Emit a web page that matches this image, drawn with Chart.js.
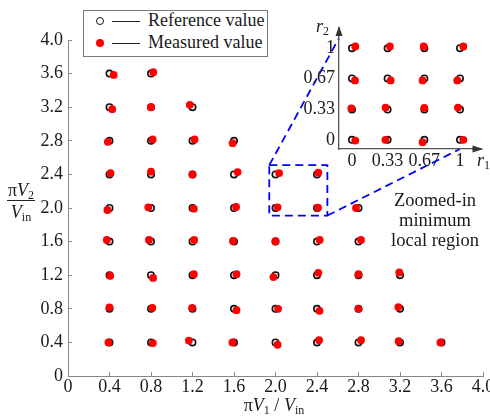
<!DOCTYPE html>
<html>
<head>
<meta charset="utf-8">
<script src="https://cdn.jsdelivr.net/npm/chart.js@4"></script>
<style>
  body { margin: 0; background: #fff; }
  #wrap { position: relative; width: 490px; height: 418px; overflow: hidden; font-family: 'Liberation Serif', serif; color: #1a1a1a; }
  #wrap canvas { position: absolute; }
  .txt { position: absolute; white-space: nowrap; }
  sub { font-size: 12px; vertical-align: -3px; line-height: 0; }
  i { font-style: italic; }
  .legend { position: absolute; left: 83px; top: 10px; width: 185px; height: 47px; border: 1px solid #777; background: #fff; box-sizing: border-box; font-size: 18px; }
  .legend .mk { position: absolute; left: 12px; width: 8px; height: 8px; border-radius: 50%; box-sizing: border-box; }
  .legend .ln { position: absolute; left: 28px; width: 28px; height: 0; border-top: 1.5px solid #222; }
  .legend .lb { position: absolute; left: 64px; }
</style>
</head>
<body>
<div id="wrap">
  <canvas id="mainChart" width="490" height="418" style="left:0;top:0"></canvas>
  <canvas id="insetChart" width="200" height="170" style="left:290px;top:10px"></canvas>

  <div class="legend">
    <div class="mk" style="top:6px;border:1.6px solid #111"></div>
    <div class="ln" style="top:10px"></div>
    <div class="lb" style="top:-1px">Reference value</div>
    <div class="mk" style="top:28px;background:#f00"></div>
    <div class="ln" style="top:32px"></div>
    <div class="lb" style="top:21px">Measured value</div>
  </div>

  <div class="txt" style="left:2px;top:181px;width:38px;text-align:center;font-size:18px;line-height:18px">
    <span style="display:inline-block;border-bottom:1px solid #222;padding:0 1px 1px">π<i>V</i><sub>2</sub></span><br>
    <span style="display:inline-block;padding-top:2px"><i>V</i><sub>in</sub></span>
  </div>
  <div class="txt" style="left:200px;top:395px;width:148px;text-align:center;font-size:18px">π<i>V</i><sub>1</sub> / <i>V</i><sub>in</sub></div>

  <div class="txt" style="left:316px;top:16px;font-size:18px"><i>r</i><sub>2</sub></div>
  <div class="txt" style="left:477px;top:150px;font-size:18px"><i>r</i><sub>1</sub></div>

  <div class="txt" style="left:378px;top:190px;width:114px;text-align:center;font-size:18.5px;line-height:20px">Zoomed-in<br>minimum<br>local region</div>
</div>

<script>
// main plot: reference grid points, row by row from the top
const refX = [
  0.4, 0.8,
  0.4, 0.8, 1.2,
  0.4, 0.8, 1.2, 1.6,
  0.4, 0.8, 1.2, 1.6, 2.0, 2.4,
  0.4, 0.8, 1.2, 1.6, 2.0, 2.4, 2.8,
  0.4, 0.8, 1.2, 1.6, 2.0, 2.4, 2.8,
  0.4, 0.8, 1.2, 1.6, 2.0, 2.4, 2.8, 3.2,
  0.4, 0.8, 1.2, 1.6, 2.0, 2.4, 2.8, 3.2,
  0.4, 0.8, 1.2, 1.6, 2.0, 2.4, 2.8, 3.2, 3.6
];
const refY = [
  3.6, 3.6,
  3.2, 3.2, 3.2,
  2.8, 2.8, 2.8, 2.8,
  2.4, 2.4, 2.4, 2.4, 2.4, 2.4,
  2.0, 2.0, 2.0, 2.0, 2.0, 2.0, 2.0,
  1.6, 1.6, 1.6, 1.6, 1.6, 1.6, 1.6,
  1.2, 1.2, 1.2, 1.2, 1.2, 1.2, 1.2, 1.2,
  0.8, 0.8, 0.8, 0.8, 0.8, 0.8, 0.8, 0.8,
  0.4, 0.4, 0.4, 0.4, 0.4, 0.4, 0.4, 0.4, 0.4
];
// measured points, same order
const measX = [
  0.44, 0.822,
  0.426, 0.80, 1.174,
  0.384, 0.816, 1.22, 1.587,
  0.41, 0.80, 1.20, 1.635, 2.035, 2.413,
  0.38, 0.774, 1.213, 1.62, 2.02, 2.41, 2.776,
  0.374, 0.78, 1.216, 1.59, 2.0, 2.426, 2.824,
  0.407, 0.82, 1.213, 1.624, 1.98, 2.413, 2.80, 3.193,
  0.40, 0.813, 1.197, 1.624, 2.025, 2.424, 2.80, 3.184,
  0.39, 0.818, 1.165, 1.585, 2.02, 2.42, 2.824, 3.187, 3.59
];
const measY = [
  3.584, 3.616,
  3.176, 3.20, 3.228,
  2.788, 2.816, 2.816, 2.772,
  2.416, 2.432, 2.40, 2.428, 2.416, 2.42,
  1.976, 2.008, 1.992, 2.012, 2.008, 2.004, 2.0,
  1.62, 1.62, 1.62, 1.608, 1.604, 1.62, 1.62,
  1.192, 1.168, 1.212, 1.212, 1.178, 1.228, 1.212, 1.232,
  0.816, 0.812, 0.812, 0.784, 0.80, 0.776, 0.80, 0.82,
  0.40, 0.392, 0.422, 0.40, 0.372, 0.426, 0.426, 0.414, 0.40
];
const axisTicks = [0, 0.4, 0.8, 1.2, 1.6, 2.0, 2.4, 2.8, 3.2, 3.6, 4.0];
const axisTickLabels = ['0', '0.4', '0.8', '1.2', '1.6', '2.0', '2.4', '2.8', '3.2', '3.6', '4.0'];

// inset (r1, r2)
const inRefR1 = [0, 0.33, 0.67, 1, 0, 0.33, 0.67, 1, 0, 0.33, 0.67, 1, 0, 0.33, 0.67, 1];
const inRefR2 = [1, 1, 1, 1, 0.67, 0.67, 0.67, 0.67, 0.33, 0.33, 0.33, 0.33, 0, 0, 0, 0];
const inMeasR1 = [0.031, 0.351, 0.664, 1.031, 0.028, 0.358, 0.654, 0.975, -0.006, 0.311, 0.67, 0.981, 0.031, 0.309, 0.654, 1.031];
const inMeasR2 = [1.018, 1.018, 1.018, 1.018, 0.648, 0.648, 0.648, 0.648, 0.344, 0.352, 0.348, 0.352, -0.008, 0, -0.025, 0];
const inTicks = [0, 0.33, 0.67, 1];
const inTickLabels = ['0', '0.33', '0.67', '1'];

// dashed box around the zoomed region (data units of main plot)
const zoomBox = { x0: 1.94, x1: 2.50, y0: 1.91, y1: 2.51 };

Chart.defaults.font.family = "'Liberation Serif', serif";
Chart.defaults.font.size = 18;
Chart.defaults.color = '#1a1a1a';

const pts = (xs, ys) => xs.map((x, i) => ({ x: x, y: ys[i] }));
const setTicks = vals => s => { s.ticks = vals.map(v => ({ value: v })); };

const insetArrows = {
  id: 'insetArrows',
  afterDraw(chart) {
    const { ctx, chartArea: a } = chart;
    ctx.save();
    ctx.fillStyle = '#333';
    ctx.beginPath();
    ctx.moveTo(a.left, a.top - 2);
    ctx.lineTo(a.left - 3.5, a.top + 8);
    ctx.lineTo(a.left + 3.5, a.top + 8);
    ctx.fill();
    ctx.beginPath();
    ctx.moveTo(a.right + 3, a.bottom);
    ctx.lineTo(a.right - 8, a.bottom - 3.5);
    ctx.lineTo(a.right - 8, a.bottom + 3.5);
    ctx.fill();
    ctx.restore();
  }
};

const inset = new Chart(document.getElementById('insetChart'), {
  type: 'scatter',
  data: {
    datasets: [
      { data: pts(inRefR1, inRefR2), pointRadius: 3.2, borderWidth: 1.6, borderColor: '#111', backgroundColor: 'rgba(0,0,0,0)', order: 1 },
      { data: pts(inMeasR1, inMeasR2), pointRadius: 3.9, borderWidth: 0, backgroundColor: '#ff0000', order: 0 }
    ]
  },
  options: {
    responsive: false,
    animation: false,
    events: [],
    layout: { padding: { top: 18, right: 9.5, left: 0, bottom: 0 } },
    plugins: { legend: { display: false }, tooltip: { enabled: false } },
    scales: {
      x: {
        min: -0.12, max: 1.19,
        afterBuildTicks: setTicks(inTicks),
        afterFit: s => { s.height = 31; s.paddingRight = 0; s.paddingLeft = 0; },
        ticks: { padding: 1, maxRotation: 0, autoSkip: false, callback: (v, i) => inTickLabels[i] },
        grid: { display: false, drawTicks: false },
        border: { color: '#555', width: 1.3 }
      },
      y: {
        min: -0.1, max: 1.22,
        afterBuildTicks: setTicks(inTicks),
        afterFit: s => { s.width = 49; },
        ticks: { padding: 4, autoSkip: false, callback: (v, i) => inTickLabels[i] },
        grid: { display: false, drawTicks: false },
        border: { color: '#555', width: 1.3 }
      }
    }
  },
  plugins: [insetArrows]
});

const zoomLinks = {
  id: 'zoomLinks',
  afterDraw(chart) {
    const { ctx, scales: { x, y } } = chart;
    const c = inset.canvas, ix = inset.scales.x, iy = inset.scales.y;
    const bx0 = x.getPixelForValue(zoomBox.x0), bx1 = x.getPixelForValue(zoomBox.x1);
    const by0 = y.getPixelForValue(zoomBox.y0), by1 = y.getPixelForValue(zoomBox.y1);
    ctx.save();
    ctx.strokeStyle = '#0000ff';
    ctx.lineWidth = 1.8;
    ctx.setLineDash([8, 5]);
    ctx.strokeRect(bx0, by1, bx1 - bx0, by0 - by1);
    ctx.beginPath();
    ctx.moveTo(bx0, by1);
    ctx.lineTo(c.offsetLeft + ix.getPixelForValue(ix.min), c.offsetTop + iy.getPixelForValue(1.11));
    ctx.moveTo(bx1, by0);
    ctx.lineTo(c.offsetLeft + ix.getPixelForValue(1), c.offsetTop + iy.getPixelForValue(iy.min));
    ctx.stroke();
    ctx.restore();
  }
};

new Chart(document.getElementById('mainChart'), {
  type: 'scatter',
  data: {
    datasets: [
      { label: 'Reference value', data: pts(refX, refY), pointRadius: 3.2, borderWidth: 1.6, borderColor: '#111', backgroundColor: 'rgba(0,0,0,0)', order: 1 },
      { label: 'Measured value', data: pts(measX, measY), pointRadius: 3.9, borderWidth: 0, backgroundColor: '#ff0000', order: 0 }
    ]
  },
  options: {
    responsive: false,
    animation: false,
    events: [],
    layout: { padding: { top: 40, right: 7, left: 0, bottom: 0 } },
    plugins: { legend: { display: false }, tooltip: { enabled: false } },
    scales: {
      x: {
        min: 0, max: 4,
        afterBuildTicks: setTicks(axisTicks),
        afterFit: s => { s.height = 42; s.paddingRight = 0; },
        ticks: { padding: 4, maxRotation: 0, autoSkip: false, callback: (v, i) => axisTickLabels[i] },
        grid: { drawOnChartArea: false, tickLength: -4, color: '#888' },
        border: { color: '#888', width: 1 }
      },
      y: {
        min: 0, max: 4,
        afterBuildTicks: setTicks(axisTicks),
        afterFit: s => { s.width = 68; },
        ticks: { padding: 9, autoSkip: false, callback: (v, i) => axisTickLabels[i] },
        grid: { drawOnChartArea: false, tickLength: -4, color: '#888' },
        border: { color: '#888', width: 1 }
      }
    }
  },
  plugins: [zoomLinks]
});
</script>
</body>
</html>
